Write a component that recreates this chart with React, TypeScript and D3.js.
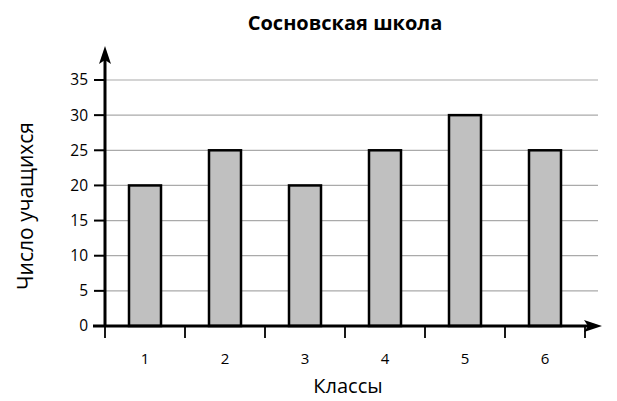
import React from "react";
import * as d3 from "d3";

const categories = ["1", "2", "3", "4", "5", "6"];
const values = [20, 25, 20, 25, 30, 25];
const yTicks = [0, 5, 10, 15, 20, 25, 30, 35];
const title = "Сосновская школа";
const xTitle = "Классы";
const yTitle = "Число учащихся";

export default function App() {
  const W = 617, H = 401;
  const x0 = 105, y0 = 326;
  const x = d3.scaleBand<string>().domain(categories).range([105, 585]).paddingInner(0.6).paddingOuter(0.3);
  const y = d3.scaleLinear().domain([0, 35]).range([y0, 80]);
  const font = "'Open Sans', sans-serif";
  const step = x.step();
  const tickXs = d3.range(categories.length + 1).map((i) => 105 + i * step);
  return (
    <svg width={W} height={H} style={{ position: "absolute", left: 0, top: 0 }} fontFamily={font}>
      <rect width={W} height={H} fill="#fff" />
      <text x={345} y={30} textAnchor="middle" fontWeight="bold" fontSize={20}>{title}</text>
      {yTicks.map((t) => (
        <g key={t}>
          {t > 0 && <line x1={x0} x2={598} y1={y(t)} y2={y(t)} stroke="#aaa" strokeWidth={1.2} />}
          <line x1={94} x2={x0} y1={y(t)} y2={y(t)} stroke="#000" strokeWidth={2} />
          <text x={88} y={y(t)} dy="0.35em" textAnchor="end" fontSize={15.5}>{t}</text>
        </g>
      ))}
      {categories.map((c, i) => (
        <g key={c}>
          <rect x={x(c)!} y={y(values[i])} width={x.bandwidth()} height={y0 - y(values[i])} fill="#c0c0c0" stroke="#000" strokeWidth={2.5} />
          <text x={x(c)! + x.bandwidth() / 2} y={y0 + 38} textAnchor="middle" fontSize={15}>{c}</text>
        </g>
      ))}
      {tickXs.map((tx, i) => (
        <line key={i} x1={tx} x2={tx} y1={y0} y2={y0 + 12} stroke="#000" strokeWidth={1.8} />
      ))}
      <line x1={x0} x2={x0} y1={y0 + 1} y2={60} stroke="#000" strokeWidth={3} />
      <path d={`M${x0},46 L${x0 - 6},64 L${x0},60 L${x0 + 6},64 Z`} fill="#000" />
      <line x1={93} x2={590} y1={y0} y2={y0} stroke="#000" strokeWidth={3} />
      <path d={`M602,${y0} L584,${y0 - 6} L588,${y0} L584,${y0 + 6} Z`} fill="#000" />
      <text x={348} y={393} textAnchor="middle" fontSize={20}>{xTitle}</text>
      <text transform={`translate(33,206) rotate(-90)`} textAnchor="middle" fontSize={21}>{yTitle}</text>
    </svg>
  );
}
